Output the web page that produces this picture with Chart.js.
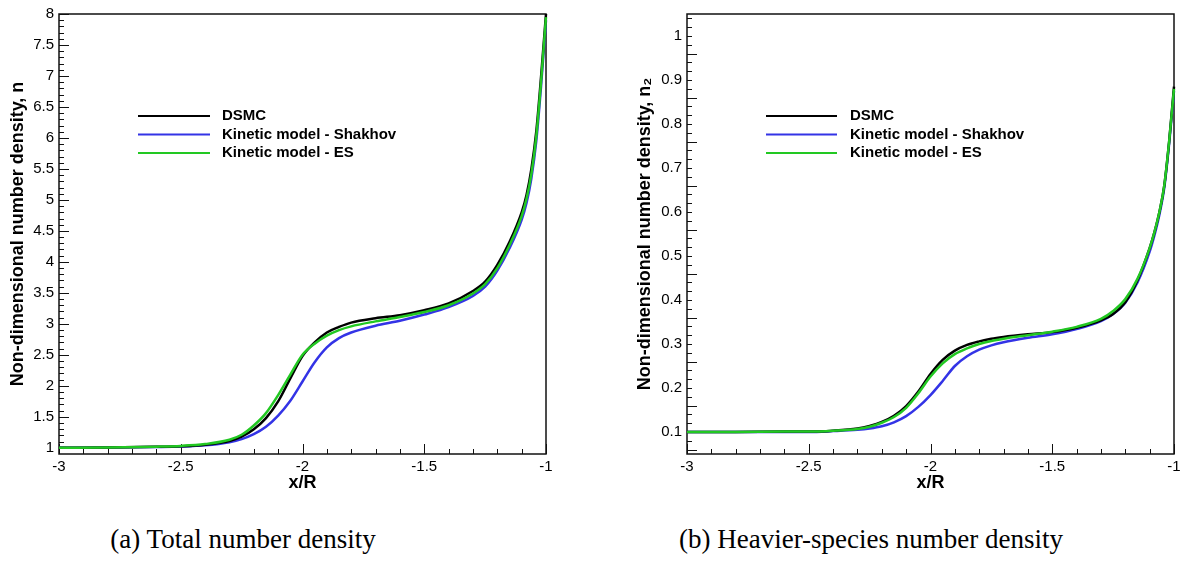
<!DOCTYPE html>
<html>
<head>
<meta charset="utf-8">
<title>Number density profiles</title>
<script src="https://cdn.jsdelivr.net/npm/chart.js@4.4.1/dist/chart.umd.min.js"></script>
<style>
  body { margin: 0; background: #fff; width: 1191px; height: 561px; position: relative; overflow: hidden; }
  canvas { position: absolute; top: 0; }
  #chartA { left: 0; }
  #chartB { left: 600px; }
  .caption { position: absolute; top: 524px; width: 400px; font-family: "Liberation Serif", "Times New Roman", serif; font-size: 27px; line-height: 30px; text-align: center; color: #000; white-space: nowrap; }
</style>
</head>
<body>
<canvas id="chartA" width="600" height="500"></canvas>
<canvas id="chartB" width="591" height="500"></canvas>
<div class="caption" style="left:43px">(a) Total number density</div>
<div class="caption" style="left:671px">(b) Heavier-species number density</div>
<script>
// series names
const seriesNames = ['DSMC', 'Kinetic model - Shakhov', 'Kinetic model - ES'];

// (a) total number density n along x/R
const xTotal = [-3, -2.8, -2.6, -2.5, -2.4, -2.3, -2.25, -2.2, -2.15, -2.1, -2.05, -2.0, -1.95, -1.9, -1.85,
  -1.8, -1.7, -1.6, -1.5, -1.4, -1.3, -1.25, -1.2, -1.15, -1.1, -1.08, -1.06, -1.04, -1.02, -1.0];
const totalDsmc = [1.0, 1.005, 1.015, 1.025, 1.05, 1.11, 1.18, 1.30, 1.48, 1.75, 2.12, 2.48, 2.70, 2.86, 2.95,
  3.02, 3.09, 3.14, 3.22, 3.33, 3.53, 3.68, 3.95, 4.32, 4.80, 5.08, 5.50, 6.10, 7.00, 8.0];
const totalShakhov = [1.0, 1.003, 1.012, 1.02, 1.04, 1.09, 1.14, 1.22, 1.34, 1.52, 1.76, 2.07, 2.38, 2.62, 2.77,
  2.86, 2.97, 3.05, 3.15, 3.27, 3.45, 3.60, 3.86, 4.22, 4.68, 4.95, 5.35, 5.95, 6.85, 7.9];
const totalEs = [1.0, 1.005, 1.018, 1.03, 1.06, 1.13, 1.21, 1.36, 1.56, 1.85, 2.18, 2.50, 2.68, 2.81, 2.90,
  2.96, 3.04, 3.11, 3.19, 3.30, 3.49, 3.64, 3.90, 4.27, 4.74, 5.02, 5.42, 6.02, 6.92, 7.95];

// (b) heavier-species number density n2 along x/R
const xHeavy = [-3, -2.8, -2.6, -2.5, -2.4, -2.3, -2.25, -2.2, -2.15, -2.1, -2.05, -2.0, -1.95, -1.9, -1.85,
  -1.8, -1.75, -1.7, -1.6, -1.5, -1.4, -1.3, -1.25, -1.2, -1.15, -1.1, -1.08, -1.06, -1.04, -1.02, -1.0];
const heavyDsmc = [0.100, 0.100, 0.101, 0.101, 0.103, 0.108, 0.114, 0.123, 0.137, 0.159, 0.192, 0.232, 0.264, 0.285, 0.298,
  0.306, 0.312, 0.316, 0.322, 0.327, 0.337, 0.354, 0.368, 0.395, 0.445, 0.518, 0.555, 0.600, 0.660, 0.760, 0.885];
const heavyShakhov = [0.100, 0.100, 0.100, 0.100, 0.102, 0.105, 0.108, 0.113, 0.122, 0.136, 0.157, 0.184, 0.216, 0.250, 0.272,
  0.287, 0.297, 0.304, 0.314, 0.322, 0.334, 0.352, 0.368, 0.394, 0.440, 0.510, 0.548, 0.594, 0.655, 0.755, 0.875];
const heavyEs = [0.100, 0.100, 0.101, 0.101, 0.103, 0.107, 0.112, 0.121, 0.134, 0.155, 0.188, 0.226, 0.256, 0.277, 0.290,
  0.300, 0.307, 0.312, 0.320, 0.328, 0.339, 0.357, 0.375, 0.402, 0.448, 0.518, 0.555, 0.600, 0.660, 0.760, 0.880];

// tick labels
const xTickVals = [-3, -2.5, -2, -1.5, -1];
const totalTickVals = [1, 1.5, 2, 2.5, 3, 3.5, 4, 4.5, 5, 5.5, 6, 6.5, 7, 7.5, 8];
const heavyTickVals = [0.1, 0.2, 0.3, 0.4, 0.5, 0.6, 0.7, 0.8, 0.9, 1];

const colors = ['#000000', '#3333e6', '#22c822'];

Chart.defaults.font.family = '"Liberation Sans", Arial, Helvetica, sans-serif';
Chart.defaults.color = '#000';

// frame box plus inward major/minor ticks
const frameTicks = {
  id: 'frameTicks',
  beforeDatasetsDraw(chart, args, o) {
    const { ctx, chartArea: a, scales: { x, y } } = chart;
    ctx.save();
    ctx.strokeStyle = '#111';
    ctx.lineWidth = 1;
    ctx.beginPath();
    const nx = Math.round((o.xMax - o.xMin) / o.xMinor);
    for (let i = 0; i <= nx; i++) {
      const px = Math.round(x.getPixelForValue(o.xMin + i * o.xMinor)) + 0.5;
      const len = i % o.xEvery === 0 ? 10 : 5;
      ctx.moveTo(px, a.bottom);
      ctx.lineTo(px, a.bottom - len);
    }
    const ny = Math.round((o.yMax - o.yMin) / o.yMinor);
    for (let i = 0; i <= ny; i++) {
      const v = o.yMin + i * o.yMinor;
      if (v > y.max + 1e-9) break;
      const py = Math.round(y.getPixelForValue(v)) + 0.5;
      const len = i % o.yEvery === 0 ? 10 : 5;
      ctx.moveTo(a.left, py);
      ctx.lineTo(a.left + len, py);
    }
    ctx.stroke();
    ctx.lineWidth = 1.5;
    ctx.strokeRect(a.left, a.top, a.right - a.left, a.bottom - a.top);
    ctx.restore();
  }
};

// legend drawn inside the plot area
const innerLegend = {
  id: 'innerLegend',
  afterDatasetsDraw(chart, args, o) {
    const { ctx } = chart;
    ctx.save();
    ctx.font = 'bold 15px "Liberation Sans", Arial, sans-serif';
    ctx.textBaseline = 'middle';
    ctx.fillStyle = '#000';
    seriesNames.forEach((name, i) => {
      const ds = chart.data.datasets.find(d => d.label === name);
      const yy = o.y + i * o.dy;
      ctx.strokeStyle = ds.borderColor;
      ctx.lineWidth = 2;
      ctx.beginPath();
      ctx.moveTo(o.x0, yy);
      ctx.lineTo(o.x1, yy);
      ctx.stroke();
      ctx.fillText(name, o.textX, yy);
    });
    ctx.restore();
  }
};

function makeSets(xs, lists) {
  // ES on top, then DSMC, Shakhov underneath
  const order = [1, 2, 0];
  return lists.map((vals, i) => ({
    label: seriesNames[i],
    data: xs.map((x, k) => ({ x: x, y: vals[k] })),
    borderColor: colors[i],
    borderWidth: 2.5,
    pointRadius: 0,
    cubicInterpolationMode: 'monotone',
    clip: false,
    order: order[i]
  }));
}

function makeChart(id, opt) {
  return new Chart(document.getElementById(id), {
    type: 'line',
    data: { datasets: makeSets(opt.xs, opt.series) },
    plugins: [frameTicks, innerLegend],
    options: {
      responsive: false,
      animation: false,
      layout: { padding: { left: 0, right: opt.padRight, top: 11, bottom: 0 } },
      plugins: {
        legend: { display: false },
        tooltip: { enabled: false },
        frameTicks: opt.ticks,
        innerLegend: opt.legend
      },
      scales: {
        x: {
          type: 'linear',
          min: -3,
          max: -1,
          afterBuildTicks: s => { s.ticks = xTickVals.map(v => ({ value: v })); },
          afterFit: s => { s.height = 46; },
          ticks: { padding: 4, font: { size: 15 }, color: '#000', callback: v => String(v) },
          grid: { display: false, drawTicks: false },
          border: { display: false },
          title: { display: true, text: 'x/R', font: { size: 18, weight: 'bold' }, padding: { top: 0, bottom: 6 } }
        },
        y: {
          type: 'linear',
          min: opt.yMin,
          max: opt.yMax,
          afterBuildTicks: s => { s.ticks = opt.yTicks.map(v => ({ value: v })); },
          afterFit: s => { s.width = opt.axisWidth; },
          ticks: { padding: 5, font: { size: 15 }, color: '#000', callback: v => String(v) },
          grid: { display: false, drawTicks: false },
          border: { display: false },
          title: { display: true, text: opt.yTitle, font: { size: 18, weight: 'bold' }, padding: { top: opt.titlePad, bottom: 0 } }
        }
      }
    }
  });
}

makeChart('chartA', {
  xs: xTotal,
  series: [totalDsmc, totalShakhov, totalEs],
  yMin: 0.9, yMax: 8, yTicks: totalTickVals,
  yTitle: 'Non-dimensional number density, n',
  axisWidth: 59, padRight: 54, titlePad: 7,
  ticks: { xMin: -3, xMax: -1, xMinor: 0.1, xEvery: 5, yMin: 1, yMax: 8, yMinor: 0.1, yEvery: 5 },
  legend: { x0: 138, x1: 210, textX: 222, y: 116, dy: 18.5 }
});

makeChart('chartB', {
  xs: xHeavy,
  series: [heavyDsmc, heavyShakhov, heavyEs],
  yMin: 0.05, yMax: 1.05, yTicks: heavyTickVals,
  yTitle: 'Non-dimensional number density, n\u2082',
  axisWidth: 87, padRight: 17, titlePad: 34,
  ticks: { xMin: -3, xMax: -1, xMinor: 0.1, xEvery: 5, yMin: 0.06, yMax: 1.04, yMinor: 0.02, yEvery: 5 },
  legend: { x0: 166, x1: 237, textX: 250, y: 116, dy: 18.5 }
});
</script>
</body>
</html>
